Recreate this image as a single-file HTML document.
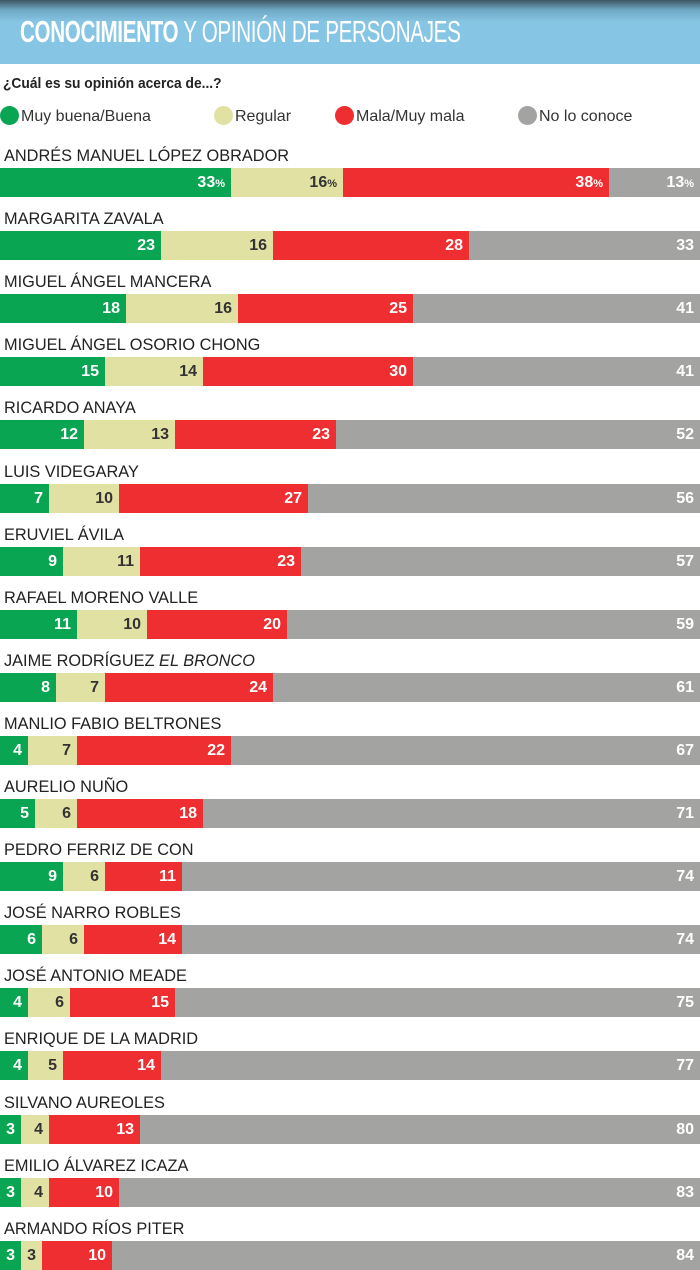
<!DOCTYPE html><html><head><meta charset="utf-8"><style>
body{margin:0;width:700px;height:1270px;background:#fff;position:relative;overflow:hidden;font-family:"Liberation Sans",sans-serif}
.hdr{position:absolute;left:0;top:0;width:700px;height:64px;background:linear-gradient(#3c5560 0,#6fa9c6 10px,#86c5e3 22px,#86c5e3 100%)}
.hdr span{position:absolute;left:20px;top:14px;font-size:31px;color:#fff;letter-spacing:-0.5px;transform:scaleX(0.665);transform-origin:left;white-space:nowrap}
.q{position:absolute;left:3px;top:75px;font-size:15px;font-weight:bold;color:#222;transform:scaleX(0.92);transform-origin:left}
.lg{position:absolute;top:106px;font-size:16px;color:#333;white-space:nowrap}
.lg i{display:inline-block;width:19px;height:19px;border-radius:50%;vertical-align:-4px;margin-right:2px}
.n{position:absolute;left:4px;font-size:17px;color:#222;white-space:nowrap;transform:scaleX(0.96);transform-origin:left}
.b{position:absolute;left:0;width:700px;height:29px;display:flex}
.b div{height:29px;box-sizing:border-box;text-align:right;padding-right:6px;font-weight:bold;font-size:16px;line-height:29px;color:#fff}
.g{background:#0aa552}.y{background:#e2e1a4;color:#333!important}.r{background:#ee2e30}.k{background:#a3a3a2;flex:1}
</style></head><body>
<div class="hdr"><span><b>CONOCIMIENTO</b> Y OPINIÓN DE PERSONAJES</span></div>
<div class="q">¿Cuál es su opinión acerca de...?</div>
<div class="lg" style="left:0"><i style="background:#0aa552"></i>Muy buena/Buena</div>
<div class="lg" style="left:214px"><i style="background:#e2e1a4"></i>Regular</div>
<div class="lg" style="left:335px"><i style="background:#ee2e30"></i>Mala/Muy mala</div>
<div class="lg" style="left:518px"><i style="background:#a3a3a2"></i>No lo conoce</div>
<div id="c"></div>
<script>
var d=[["ANDRÉS MANUEL LÓPEZ OBRADOR",33,16,38,13],["MARGARITA ZAVALA",23,16,28,33],["MIGUEL ÁNGEL MANCERA",18,16,25,41],["MIGUEL ÁNGEL OSORIO CHONG",15,14,30,41],["RICARDO ANAYA",12,13,23,52],["LUIS VIDEGARAY",7,10,27,56],["ERUVIEL ÁVILA",9,11,23,57],["RAFAEL MORENO VALLE",11,10,20,59],["JAIME RODRÍGUEZ <i>EL BRONCO</i>",8,7,24,61],["MANLIO FABIO BELTRONES",4,7,22,67],["AURELIO NUÑO",5,6,18,71],["PEDRO FERRIZ DE CON",9,6,11,74],["JOSÉ NARRO ROBLES",6,6,14,74],["JOSÉ ANTONIO MEADE",4,6,15,75],["ENRIQUE DE LA MADRID",4,5,14,77],["SILVANO AUREOLES",3,4,13,80],["EMILIO ÁLVAREZ ICAZA",3,4,10,83],["ARMANDO RÍOS PITER",3,3,10,84]];
var h="";d.forEach(function(r,i){var t=Math.round(168+i*63.1);var p=i==0?'<small style="font-size:11px">%</small>':'';
h+='<div class="n" style="top:'+(t-22)+'px">'+r[0]+'</div><div class="b" style="top:'+t+'px"><div class="g" style="width:'+r[1]*7+'px">'+r[1]+p+'</div><div class="y" style="width:'+r[2]*7+'px">'+r[2]+p+'</div><div class="r" style="width:'+r[3]*7+'px">'+r[3]+p+'</div><div class="k">'+r[4]+p+'</div></div>';});
document.getElementById("c").innerHTML=h;
</script></body></html>
